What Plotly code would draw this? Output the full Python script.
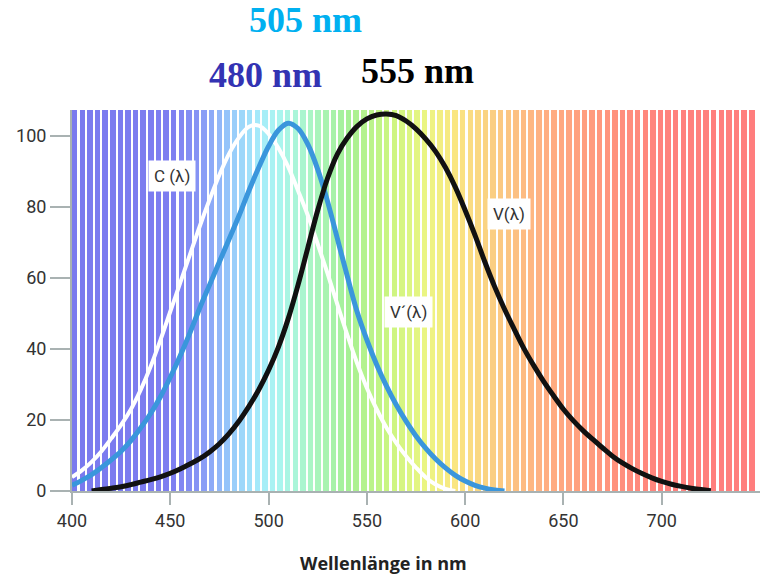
import plotly.graph_objects as go

# ---- data ----
v_wl = list(range(410, 730, 5))
v_val = [0, 0.4, 0.8, 1.2, 1.8, 2.5, 3.2, 4.0, 5.0, 6.2, 7.6, 9.1, 11.0, 13.3, 16.2, 19.7,
         23.8, 28.5, 34, 40.5, 48.5, 58, 68.5, 79, 88, 94.8, 99.3, 102.6, 104.7, 105.8,
         106.1, 105.6, 104.1, 101.9, 99, 95.5, 91, 85.5, 79, 72, 64.5, 57.5, 51.2, 45.5, 40,
         35.2, 30.8, 26.8, 23, 19.8, 17, 14.5, 12.1, 9.8, 7.9, 6.3, 4.9, 3.7, 2.7, 1.9, 1.3,
         0.8, 0.4, 0.1]

vp_wl = list(range(400, 625, 5))
vp_val = [1.6, 3.0, 4.6, 6.6, 8.8, 11.2, 14.2, 17.8, 21.8, 26.5, 32, 38, 44.5, 51.5, 58,
          64.5, 71, 77.5, 84.5, 91, 97, 101.5, 103.5, 102, 97.5, 90.5, 81.5, 71, 60.5, 50.5,
          42.5, 35.5, 29.5, 24.2, 19.6, 15.5, 12, 9, 6.5, 4.4, 2.8, 1.6, 0.8, 0.3, 0]

c_wl = list(range(400, 600, 5))
c_val = [3.9, 5.8, 8.2, 11.2, 14.8, 18.6, 23, 28.5, 35, 42.5, 50.5, 58.5, 66.5, 74.5, 82,
         89, 95, 99.5, 102.5, 102.8, 100.5, 96.5, 91.2, 84.5, 77.5, 69.5, 61.2, 52.5, 44,
         36, 29, 23, 17.8, 13.5, 9.8, 6.6, 3.8, 1.8, 0.6, 0]

x_ticks = [400, 450, 500, 550, 600, 650, 700]
y_ticks = [0, 20, 40, 60, 80, 100]
peak_labels = ["505 nm", "480 nm", "555 nm"]
curve_labels = ["C (λ)", "V´(λ)", "V(λ)"]
x_title = "Wellenlänge in nm"

# ---- background spectrum stripes (styling) ----
X0, X1, YTOP = 400, 750, 107.2
pitch = 3.87
n_str = int((X1 - X0) / pitch)
stops = [(400, (122, 122, 238)), (450, (125, 125, 240)), (465, (135, 150, 245)),
         (480, (150, 200, 250)), (495, (165, 235, 250)), (505, (170, 245, 240)),
         (520, (170, 245, 200)), (540, (165, 240, 150)), (560, (200, 245, 130)),
         (580, (235, 245, 130)), (595, (250, 230, 130)), (615, (250, 205, 130)),
         (640, (255, 175, 130)), (670, (255, 150, 125)), (700, (255, 130, 125)),
         (750, (255, 125, 125))]


def col_at(w):
    for (a, ca), (b, cb) in zip(stops[:-1], stops[1:]):
        if a <= w <= b:
            t = (w - a) / (b - a)
            c = [round(ca[k] + t * (cb[k] - ca[k])) for k in range(3)]
            return "rgb(%d,%d,%d)" % tuple(c)
    return "rgb(%d,%d,%d)" % stops[-1][1]


centers = [X0 + (i + 0.36) * pitch for i in range(n_str)]
colors = [col_at(c) for c in centers]

fig = go.Figure()
fig.add_trace(go.Bar(x=centers, y=[YTOP] * n_str, width=0.72 * pitch,
                     marker=dict(color=colors, line=dict(width=0)),
                     hoverinfo="skip", showlegend=False))

fig.add_trace(go.Scatter(x=c_wl, y=c_val, mode="lines",
                         line=dict(color="white", width=4, shape="spline"), showlegend=False))
fig.add_trace(go.Scatter(x=vp_wl, y=vp_val, mode="lines",
                         line=dict(color="rgb(58,150,220)", width=5, shape="spline"), showlegend=False))
fig.add_trace(go.Scatter(x=v_wl, y=v_val, mode="lines",
                         line=dict(color="#111111", width=5, shape="spline"), showlegend=False))

tick_font = dict(family="Roboto, sans-serif", size=18, color="#333333")
axis_col = "#a9b2b2"

fig.update_xaxes(range=[X0, X1], tickvals=x_ticks, ticks="outside", ticklen=12, tickwidth=2,
                 tickcolor=axis_col, showline=True, linecolor=axis_col, linewidth=2,
                 showgrid=False, zeroline=False, tickfont=tick_font)
fig.update_yaxes(range=[0, YTOP], tickvals=y_ticks, ticks="outside", ticklen=20, tickwidth=2,
                 tickcolor=axis_col, showline=True, linecolor=axis_col, linewidth=2,
                 showgrid=False, zeroline=False, tickfont=tick_font)

ann = []
lab_font = dict(family="Roboto, sans-serif", size=17, color="#333333")
for txt, x, y in zip(curve_labels, [450.7, 571.4, 622.3], [88.5, 50.3, 77.9]):
    ann.append(dict(x=x, y=y, xref="x", yref="y", text=txt, showarrow=False, font=lab_font,
                    bgcolor="white", borderpad=5))

serif = "Liberation Serif, Times New Roman, serif"
for txt, px, py, c in zip(peak_labels, [305, 265, 417], [20, 75, 71],
                          ["rgb(0,176,240)", "rgb(51,51,179)", "black"]):
    ann.append(dict(x=(px - 72) / 688, y=(491 - py) / 381, xref="paper", yref="paper",
                    text="<b>%s</b>" % txt, showarrow=False, xanchor="center", yanchor="middle",
                    font=dict(family=serif, size=36, color=c)))

ann.append(dict(x=(383 - 72) / 688, y=(491 - 563) / 381, xref="paper", yref="paper",
                text="<b>%s</b>" % x_title, showarrow=False, xanchor="center", yanchor="middle",
                font=dict(family="Open Sans, sans-serif", size=18, color="#222222")))

fig.update_layout(width=760, height=577, margin=dict(l=72, r=0, t=110, b=86),
                  paper_bgcolor="white", plot_bgcolor="white", bargap=0,
                  annotations=ann, showlegend=False)

fig.write_html("out.html", config={"displayModeBar": False},
               post_script="document.body.style.margin='0';")
